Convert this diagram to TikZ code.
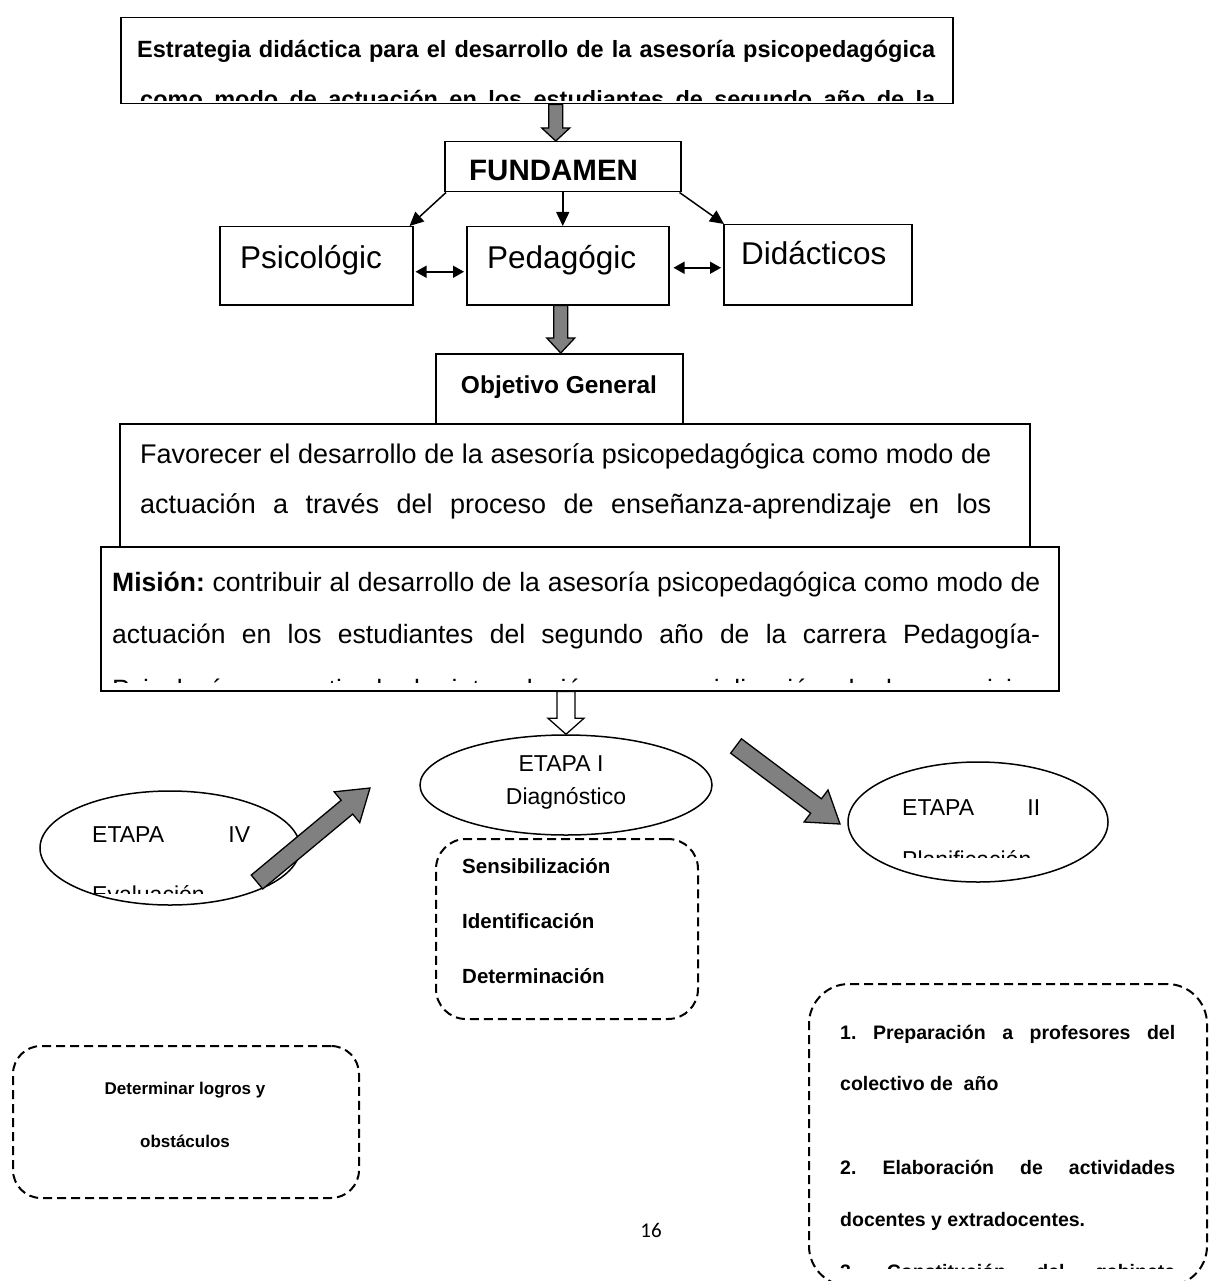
\documentclass[tikz,border=0pt]{standalone}
\usepackage{fontspec}
\setmainfont{Liberation Sans}
\newfontfamily\calib{Carlito}
\usetikzlibrary{calc,shapes.geometric,arrows.meta}
\definecolor{arrgray}{RGB}{128,128,128}
\frenchspacing

\newcommand{\blockarr}[6]{%
  \coordinate (bah) at ($(#2)!#5!(#1)$);
  \draw[fill=#6, line width=1.3pt, line join=miter]
    ($(#1)!#3!90:(#2)$) -- ($(bah)!#3!90:(#2)$) -- ($(bah)!#4!90:(#2)$) -- (#2)
    -- ($(bah)!#4!-90:(#2)$) -- ($(bah)!#3!-90:(#2)$) -- ($(#1)!#3!-90:(#2)$) -- cycle;}

\newcommand{\fTitle}{\fontsize{23.5}{28}\selectfont\bfseries}
\newcommand{\fFund}{\fontsize{29.5}{34}\selectfont\bfseries}
\newcommand{\fBig}{\fontsize{31.5}{36}\selectfont}
\newcommand{\fObj}{\fontsize{24.5}{29}\selectfont\bfseries}
\newcommand{\fBody}{\fontsize{27}{32}\selectfont}
\newcommand{\fMis}{\fontsize{26.5}{31}\selectfont}
\newcommand{\fEll}{\fontsize{23}{27}\selectfont}
\newcommand{\fList}{\fontsize{20.5}{24}\selectfont\bfseries}
\newcommand{\fDet}{\fontsize{17}{21}\selectfont\bfseries}
\newcommand{\fRight}{\fontsize{19.5}{23}\selectfont\bfseries}

\tikzset{
  box/.style={draw, fill=white, line width=1.5pt, inner sep=0pt, anchor=north west},
  dbox/.style={draw, line width=2pt, dash pattern=on 9pt off 5pt, inner sep=0pt, anchor=north west},
  ell/.style={draw, ellipse, fill=white, line width=1.5pt, inner sep=0pt},
  txt/.style={inner sep=0pt, anchor=base west},
  ctxt/.style={inner sep=0pt, anchor=base},
  thinarr/.style={line width=1.5pt, -{Triangle[length=14pt,width=13pt]}},
  dblarr/.style={line width=1.5pt, {Triangle[length=11pt,width=12pt]}-{Triangle[length=11pt,width=12pt]}}
}

\begin{document}
\begin{tikzpicture}[x=1pt,y=-1pt]
\useasboundingbox[fill=white] (0,0) rectangle (1208,1281);

% ---------- title ----------
\node[box, minimum width=832pt, minimum height=86pt] (title) at (120,17) {};
\begin{scope}
  \clip (122,19) rectangle (950,101);
  \node[txt, font=\fTitle] (t1) at (137,58) {\makebox[798pt][s]{Estrategia didáctica para el desarrollo de la asesoría psicopedagógica}};
  \node[txt, font=\fTitle] (t2) at (140,108) {\makebox[795pt][s]{como modo de actuación en los estudiantes de segundo año de la}};
\end{scope}

% ---------- fundamentos ----------
\node[box, minimum width=236pt, minimum height=50pt] (fund) at (444,141) {};
\node[txt, font=\fFund] (fundt) at (469,181) {FUNDAMEN};

\blockarr{[xshift=-7pt]fund.north |- title.south}{[xshift=-7pt]fund.north}{7pt}{14pt}{13pt}{arrgray}

\node[box, minimum width=193pt, minimum height=78pt] (psico) at (219,226) {};
\node[box, minimum width=202pt, minimum height=78pt] (peda) at (466,226) {};
\node[box, minimum width=188pt, minimum height=80pt] (dida) at (723,224) {};
\node[txt, font=\fBig] (psicot) at (240,268) {Psicológic};
\node[txt, font=\fBig] (pedat) at (487,268) {Pedagógic};
\node[txt, font=\fBig] (didat) at (741,265) {Didácticos};

\draw[thinarr] ([xshift=2pt]fund.south west) -- ([xshift=-4pt]psico.north east);
\draw[thinarr] (fund.south) -- (fund.south |- peda.north);
\draw[thinarr] ([xshift=-2pt]fund.south east) -- ([xshift=1pt]dida.north west);

\draw[dblarr] ([xshift=2pt,yshift=-6pt]psico.east) -- ([xshift=-2pt,yshift=-6pt]psico.east -| peda.west);
\draw[dblarr] ([xshift=4pt,yshift=-2pt]peda.east) -- ([xshift=-2pt,yshift=-2pt]peda.east -| dida.west);

% ---------- objetivo ----------
\node[box, minimum width=247pt, minimum height=70pt] (obj) at (435,353) {};
\node[ctxt, font=\fObj] (objt) at (559,393) {Objetivo General};

\blockarr{[xshift=-7pt]peda.south}{[xshift=-7pt]peda.south |- obj.north}{7pt}{14pt}{15pt}{arrgray}

\node[box, minimum width=910pt, minimum height=125pt] (fav) at (119,423) {};
\node[txt, font=\fBody] (fav1) at (140,463) {\makebox[851pt][s]{Favorecer el desarrollo de la asesoría psicopedagógica como modo de}};
\node[txt, font=\fBody] (fav2) at (140,513) {\makebox[851pt][s]{actuación a través del proceso de enseñanza-aprendizaje en los}};

% ---------- mision ----------
\node[box, minimum width=958pt, minimum height=144pt] (mis) at (100,546) {};
\begin{scope}
  \clip (102,548) rectangle (1056,682);
  \node[txt, font=\fMis] (mis1) at (112,591) {\makebox[928pt][s]{\textbf{Misión:} contribuir al desarrollo de la asesoría psicopedagógica como modo de}};
  \node[txt, font=\fMis] (mis2) at (112,643) {\makebox[928pt][s]{actuación en los estudiantes del segundo año de la carrera Pedagogía-}};
  \node[txt, font=\fMis] (mis3) at (112,698) {\makebox[928pt][s]{Psicología, a partir de la interrelación y especialización de los servicios}};
\end{scope}

% ---------- etapas ----------
\node[ell, minimum width=292pt, minimum height=100pt] (e1) at (566,785) {};
\node[ctxt, font=\fEll] (e1a) at (561,771) {ETAPA I};
\node[ctxt, font=\fEll] (e1b) at (566,804) {Diagnóstico};

\blockarr{mis.south -| e1.north}{e1.north}{9pt}{18pt}{16pt}{white}

\node[dbox, rounded corners=30pt, minimum width=262pt, minimum height=180pt] (sens) at (435,838) {};
\node[txt, font=\fList] (s1) at (462,873) {Sensibilización};
\node[txt, font=\fList] (s2) at (462,928) {Identificación};
\node[txt, font=\fList] (s3) at (462,983) {Determinación};

\node[ell, minimum width=260pt, minimum height=120pt] (e2) at (978,822) {};
\node[txt, font=\fEll] (e2a) at (902,815) {\makebox[138pt][s]{ETAPA II}};
\begin{scope}
  \clip (850,700) rectangle (1110,857);
  \node[txt, font=\fEll] (e2b) at (902,867) {Planificación};
\end{scope}

\node[ell, minimum width=260pt, minimum height=114pt] (e4) at (170,848) {};
\node[txt, font=\fEll] (e4a) at (92,842) {\makebox[158pt][s]{ETAPA IV}};
\begin{scope}
  \clip (40,700) rectangle (300,893);
  \node[txt, font=\fEll] (e4b) at (92,902) {Evaluación};
\end{scope}

\coordinate (gl1) at (257,882);
\coordinate (gl2) at (370,788);
\coordinate (gr1) at (736,746);
\coordinate (gr2) at (840,824);
\blockarr{gl1}{gl2}{9pt}{20pt}{30pt}{arrgray}
\blockarr{gr1}{gr2}{9pt}{20pt}{30pt}{arrgray}

% ---------- dashed boxes ----------
\node[dbox, rounded corners=28pt, minimum width=346pt, minimum height=152pt] (det) at (12,1045) {};
\node[ctxt, font=\fDet] (d1) at (185,1094) {Determinar logros y};
\node[ctxt, font=\fDet] (d2) at (185,1147) {obstáculos};

\node[dbox, rounded corners=40pt, minimum width=398pt, minimum height=302pt] (plan) at (808,983) {};
\node[txt, font=\fRight] (p1) at (840,1039) {\makebox[335pt][s]{1. Preparación a profesores del}};
\node[txt, font=\fRight] (p2) at (840,1090) {colectivo de\ \ año};
\node[txt, font=\fRight] (p3) at (840,1174) {\makebox[335pt][s]{2. Elaboración de actividades}};
\node[txt, font=\fRight] (p4) at (840,1226) {docentes y extradocentes.};
\begin{scope}
  \clip (810,1180) rectangle (1200,1268);
  \node[txt, font=\fRight] (p5) at (840,1278) {\makebox[335pt][s]{3. Constitución del gabinete}};
\end{scope}

\node[ctxt, font=\calib\fontsize{21}{25}\selectfont] (pg) at (651,1237) {16};
\end{tikzpicture}
\end{document}
